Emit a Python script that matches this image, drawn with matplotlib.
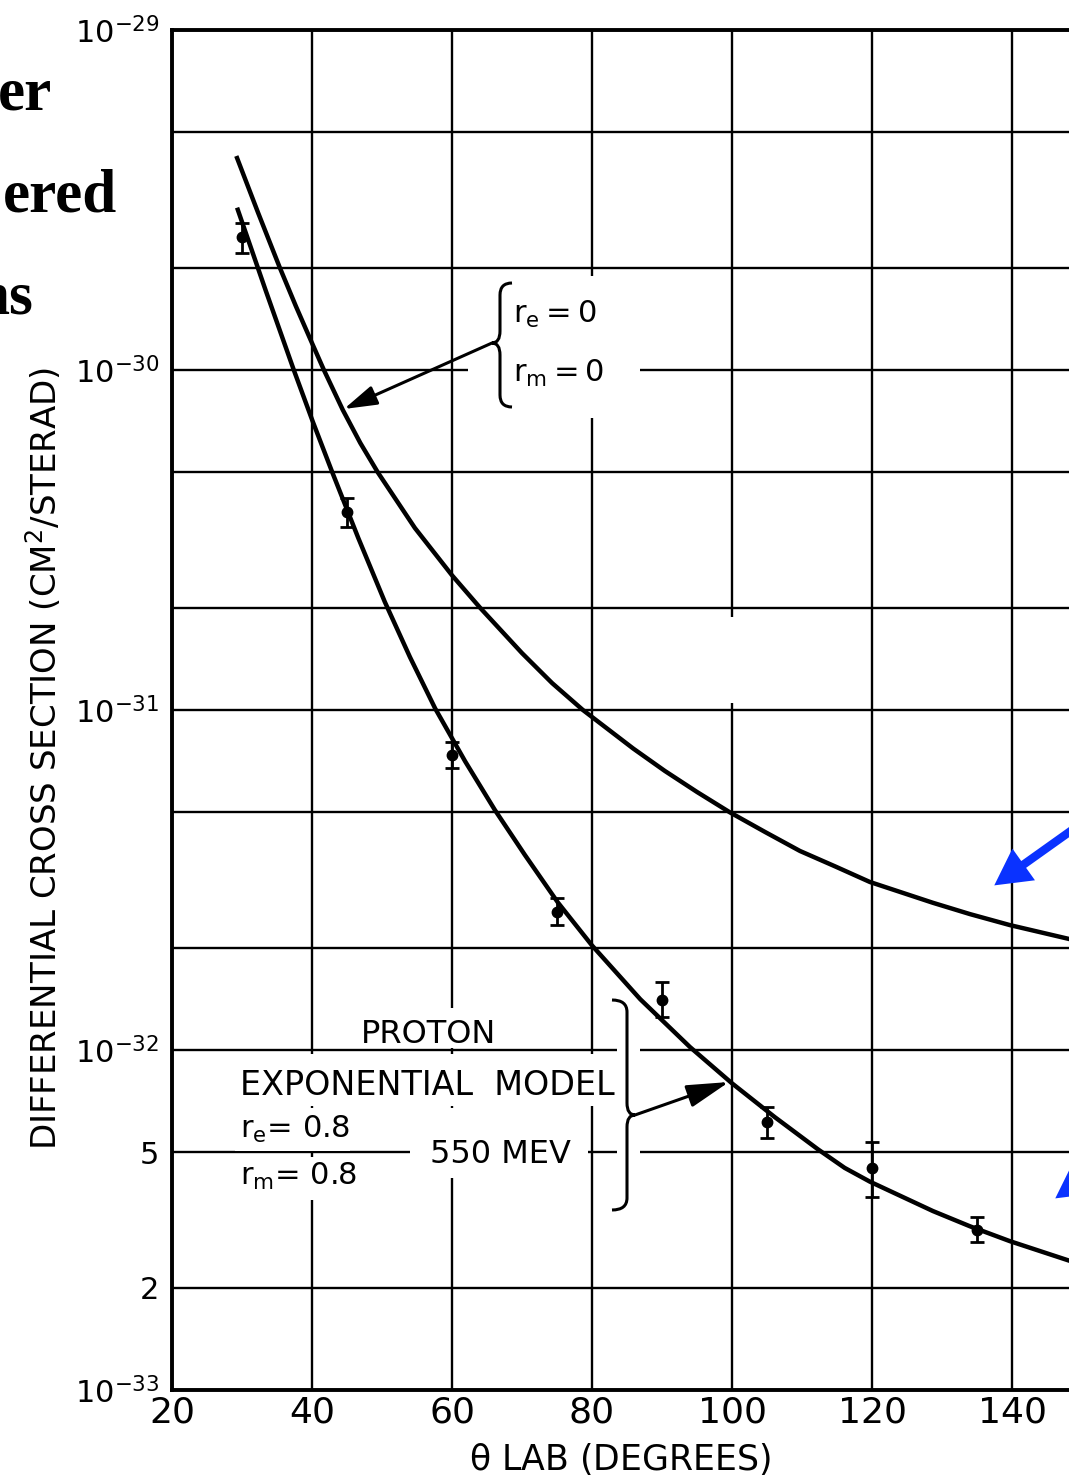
import matplotlib.pyplot as plt
from matplotlib.patches import Rectangle, FancyArrowPatch, PathPatch
from matplotlib.path import Path
from matplotlib.ticker import NullLocator

# ---- values ----
# measured points, 550 MeV protons
theta_meas = [30, 45, 60, 75, 90, 105, 120, 135]
sigma_meas = [2.46e-30, 3.82e-31, 7.38e-32, 2.55e-32, 1.40e-32, 6.14e-33, 4.50e-33, 2.96e-33]
sigma_hi = [2.70e-30, 4.21e-31, 8.05e-32, 2.80e-32, 1.58e-32, 6.80e-33, 5.36e-33, 3.23e-33]
sigma_lo = [2.21e-30, 3.45e-31, 6.75e-32, 2.33e-32, 1.25e-32, 5.50e-33, 3.70e-33, 2.72e-33]

# point charge curve (r_e = r_m = 0)
theta_point = [29.3, 32.3, 35.4, 37.7, 40.0, 41.7, 44.4, 46.9, 49.4, 54.7, 60.0,
               64.0, 70.0, 74.3, 78.7, 85.9, 90.4, 95.0, 99.7, 104.7, 109.7,
               114.7, 119.7, 128.7, 134.0, 139.7, 148.2]
sigma_point = [4.20e-30, 2.90e-30, 2.00e-30, 1.54e-30, 1.20e-30, 1.00e-30, 7.63e-31,
               6.10e-31, 5.00e-31, 3.43e-31, 2.49e-31, 2.00e-31, 1.47e-31, 1.20e-31,
               1.00e-31, 7.70e-32, 6.62e-32, 5.74e-32, 5.00e-32, 4.38e-32, 3.85e-32,
               3.47e-32, 3.12e-32, 2.71e-32, 2.51e-32, 2.33e-32, 2.12e-32]

# exponential model curve (r_e = r_m = 0.8)
theta_expo = [29.4, 33.4, 37.4, 40.1, 42.9, 46.6, 50.4, 54.0, 57.6, 61.9, 66.1,
              70.4, 75.1, 80.0, 86.9, 94.0, 100.0, 106.1, 112.3, 116.1, 119.7,
              128.7, 134.0, 139.7, 148.2]
sigma_expo = [2.96e-30, 1.71e-30, 1.00e-30, 7.06e-31, 5.00e-31, 3.21e-31, 2.08e-31,
              1.43e-31, 1.01e-31, 7.05e-32, 5.09e-32, 3.75e-32, 2.72e-32, 2.03e-32,
              1.41e-32, 1.02e-32, 7.98e-33, 6.35e-33, 5.10e-33, 4.50e-33, 4.10e-33,
              3.36e-33, 3.03e-33, 2.74e-33, 2.40e-33]

xticks = [20, 40, 60, 80, 100, 120, 140]
yticks = [1e-33, 2e-33, 5e-33, 1e-32, 2e-32, 5e-32, 1e-31, 2e-31, 5e-31,
          1e-30, 2e-30, 5e-30, 1e-29]
ytick_labels = [r'$10^{-33}$', '2', '5', r'$10^{-32}$', '', '', r'$10^{-31}$', '', '',
                r'$10^{-30}$', '', '', r'$10^{-29}$']

# ---- layout (pixels of the 1069x1476 page) ----
W, H = 1069, 1476
L, T, B = 172, 30, 1390

plt.rcParams['font.family'] = 'DejaVu Sans'
plt.rcParams['mathtext.default'] = 'regular'

fig = plt.figure(figsize=(W / 100, H / 100), dpi=100)
ax = fig.add_axes([L / W, 1 - B / H, (W - L) / W, (B - T) / H])


def fxy(x, y):
    # page pixel -> figure fraction
    return x / W, 1 - y / H


ax.set_yscale('log')
ax.set_xlim(20, 20 + (W - L) / 7.0)
ax.set_ylim(1e-33, 1e-29)
ax.set_xticks(xticks)
ax.set_yticks(yticks)
ax.set_yticklabels(ytick_labels)
ax.yaxis.set_minor_locator(NullLocator())
ax.tick_params(length=0, colors='black')
ax.tick_params(axis='y', pad=9, labelsize=22)
ax.tick_params(axis='x', pad=4, labelsize=26)
ax.set_axisbelow(True)
ax.grid(True, color='black', lw=1.7)
for s in ['left', 'top', 'bottom']:
    ax.spines[s].set_linewidth(2.8)
ax.spines['right'].set_visible(False)

# curves and points
ax.plot(theta_point, sigma_point, color='black', lw=3.2, zorder=2,
        solid_joinstyle='round')
ax.plot(theta_expo, sigma_expo, color='black', lw=3.2, zorder=2,
        solid_joinstyle='round')
yerr = [[m - lo for m, lo in zip(sigma_meas, sigma_lo)],
        [hi - m for m, hi in zip(sigma_meas, sigma_hi)]]
ax.errorbar(theta_meas, sigma_meas, yerr=yerr, fmt='o', color='black', ms=7.5,
            elinewidth=2, capsize=5, capthick=2, zorder=3)

# white patches where the grid is blanked behind the lettering
blank = [(468, 276, 640, 418), (355, 1008, 497, 1048), (235, 1054, 622, 1106),
         (235, 1108, 350, 1151), (235, 1157, 350, 1200), (410, 1108, 588, 1178),
         (617, 998, 640, 1212), (724, 617, 738, 703)]
for x0, y0, x1, y1 in blank:
    ax.add_patch(Rectangle(fxy(x0, y1), (x1 - x0) / W, (y1 - y0) / H,
                           transform=fig.transFigure, facecolor='white',
                           edgecolor='none', zorder=1))


def brace(xs, yt, yb, ym, end, tip, r=12):
    pts = [(xs + end, yt), (xs, yt), (xs, yt + r), (xs, ym - r),
           (xs, ym), (xs + tip, ym), (xs, ym), (xs, ym + r),
           (xs, yb - r), (xs, yb), (xs + end, yb)]
    codes = [Path.MOVETO, Path.CURVE3, Path.CURVE3, Path.LINETO,
             Path.CURVE3, Path.CURVE3, Path.CURVE3, Path.CURVE3,
             Path.LINETO, Path.CURVE3, Path.CURVE3]
    path = Path([fxy(x, y) for x, y in pts], codes)
    ax.add_patch(PathPatch(path, transform=fig.transFigure, facecolor='none',
                           edgecolor='black', lw=2.2, zorder=3))


brace(500, 283, 407, 343, 12, -8)
brace(627, 1000, 1210, 1115, -15, 8)


def arrow(p0, p1, style):
    a = FancyArrowPatch(fxy(*p0), fxy(*p1), transform=fig.transFigure,
                        arrowstyle=style, mutation_scale=20, color='black',
                        lw=2.2, shrinkA=0, shrinkB=0, zorder=4)
    ax.add_patch(a)
    a.set_clip_on(False)


arrow((492, 343), (344, 409), '-|>,head_length=1.0,head_width=0.3')
arrow((635, 1115), (729, 1082), '-|>,head_length=1.3,head_width=0.35')

# blue pointer arrows added on the slide
blue = '#0a32ff'
for tip in [(992, 887), (1053, 1200)]:
    a = FancyArrowPatch(fxy(tip[0] + 118, tip[1] - 84), fxy(*tip),
                        transform=fig.transFigure,
                        arrowstyle='simple,head_length=1.3,head_width=1.4,tail_width=0.3',
                        mutation_scale=20, color=blue, lw=0, zorder=5)
    fig.add_artist(a)


# lettering on the chart
def label(x, y, s, size=23):
    ax.text(*fxy(x, y), s, transform=fig.transFigure, fontsize=size,
            ha='left', va='baseline', zorder=4)


label(513, 323, r'$r_e = 0$', 22)
label(513, 382, r'$r_m = 0$', 22)
label(361, 1043, 'PROTON')
label(240, 1095, 'EXPONENTIAL  MODEL', 24)
label(240, 1138, r'$r_e$= 0.8', 22)
label(240, 1185, r'$r_m$= 0.8', 22)
label(430, 1163, '550 MEV')

fig.text(*fxy(44, 758), r'DIFFERENTIAL CROSS SECTION (CM$^2$/STERAD)',
         rotation=90, ha='center', va='center', fontsize=24.5)
fig.text(*fxy(620, 1459), r'$\theta$ LAB (DEGREES)', ha='center', va='center',
         fontsize=25)

# fragments of the slide text cut off at the left edge
serif = dict(family='Liberation Serif', weight='bold', fontsize=44,
             ha='right', va='baseline')
fig.text(*fxy(52, 110), 'er', **serif)
fig.text(*fxy(117, 212), 'ered', **serif)
fig.text(*fxy(33, 313), 'ns', **serif)

fig.savefig('out.png', dpi=100)
